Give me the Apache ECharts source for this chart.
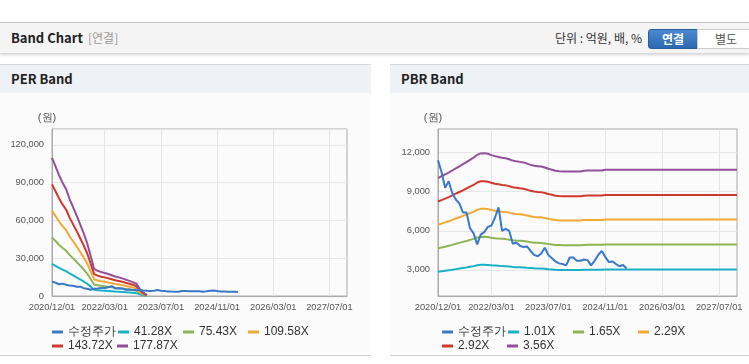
<!DOCTYPE html>
<html><head><meta charset="utf-8">
<script src="https://cdn.jsdelivr.net/npm/echarts@6/dist/echarts.min.js"></script>
<style>
html,body{margin:0;padding:0;background:#fff;width:749px;height:364px;overflow:hidden;font-family:"Noto Sans CJK KR","Noto Sans",sans-serif;}
#hdr{position:absolute;left:0;top:22px;width:749px;height:30px;background:#f4f4f4;border-top:1px solid #c4c4c4;box-shadow:0 2px 3px rgba(0,0,0,0.18);}
#hdr .t{position:absolute;left:11px;top:5px;font-size:13px;font-weight:bold;color:#222;}
#hdr .s{position:absolute;left:88px;top:6px;font-size:12px;color:#999;}
#hdr .u{position:absolute;right:107px;top:6px;font-size:12px;color:#333;}
.btn{position:absolute;top:6px;height:18px;line-height:18px;font-size:12px;text-align:center;}
.b1{left:648px;width:48px;background:linear-gradient(#4a8ad2,#2c68b0);color:#fff;font-weight:bold;border-radius:3px 0 0 3px;border:1px solid #2a5f9e;}
.b2{left:697px;width:56px;background:#fff;color:#555;border:1px solid #ccc;}
.panel{position:absolute;top:64px;height:290px;background:#fbfbfb;border-top:1px solid #d8d8d8;border-bottom:1px solid #d0d0d0}
.ptitle{height:28px;background:#eef1f6;font-size:13px;font-weight:bold;color:#222;line-height:28px;padding-left:11px;}
.chart{position:absolute;top:29px;left:0;height:261px}
</style></head>
<body>
<div id="hdr"><span class="t">Band Chart</span><span class="s">[연결]</span><span class="u">단위 : 억원, 배, %</span>
<div class="btn b1">연결</div><div class="btn b2">별도</div></div>
<div class="panel" style="left:0;width:371px"><div class="ptitle">PER Band</div><div id="c1" class="chart" style="width:371px"></div></div>
<div class="panel" style="left:390px;width:359px"><div class="ptitle">PBR Band</div><div id="c2" class="chart" style="width:359px"></div></div>
<script>
const dates = [
'2020/12/01',
'2021/01/01','2021/02/01','2021/03/01','2021/04/01','2021/05/01','2021/06/01','2021/07/01','2021/08/01','2021/09/01','2021/10/01','2021/11/01','2021/12/01',
'2022/01/01','2022/02/01','2022/03/01','2022/04/01','2022/05/01','2022/06/01','2022/07/01','2022/08/01','2022/09/01','2022/10/01','2022/11/01','2022/12/01',
'2023/01/01','2023/02/01','2023/03/01','2023/04/01','2023/05/01','2023/06/01','2023/07/01','2023/08/01','2023/09/01','2023/10/01','2023/11/01','2023/12/01',
'2024/01/01','2024/02/01','2024/03/01','2024/04/01','2024/05/01','2024/06/01','2024/07/01','2024/08/01','2024/09/01','2024/10/01','2024/11/01','2024/12/01',
'2025/01/01','2025/02/01','2025/03/01','2025/04/01','2025/05/01','2025/06/01','2025/07/01','2025/08/01','2025/09/01','2025/10/01','2025/11/01','2025/12/01',
'2026/01/01','2026/02/01','2026/03/01','2026/04/01','2026/05/01','2026/06/01','2026/07/01','2026/08/01','2026/09/01','2026/10/01','2026/11/01','2026/12/01',
'2027/01/01','2027/02/01','2027/03/01','2027/04/01','2027/05/01','2027/06/01','2027/07/01','2027/08/01','2027/09/01','2027/10/01','2027/11/01','2027/12/01'
];
const tickDates = ['2020/12/01','2022/03/01','2023/07/01','2024/11/01','2026/03/01','2027/07/01'];
const perYTicks = [0, 30000, 60000, 90000, 120000];
const pbrYTicks = [3000, 6000, 9000, 12000];

const price = [11400,10500,9300,9800,8900,8400,8100,7400,7400,6200,5800,4950,5700,5900,6300,6400,7000,7800,6000,6150,6000,5000,5100,4850,4750,4800,4450,4150,4050,4250,4700,4150,3900,3650,3500,3450,3350,3950,3950,3700,3700,3800,3750,3350,3700,4150,4450,4000,3600,3650,3450,3280,3380,3100];

const perNames = ['41.28X','75.43X','109.58X','143.72X','177.87X'];
const per41 = [25460,23910,22280,20890,19730,17870,16360,14850,13230,11610,9750,7430,4990,4640,4410,4250,4060,3830,3600,3440,3250,3020,2790,2550,2270,1300,650,160];
const per75 = [46520,43680,40710,38170,36050,32660,29900,27140,24170,21210,17810,13570,9120,8480,8060,7760,7420,7000,6570,6280,5940,5510,5090,4670,4160,2370,1190,300];
const per109 = [67590,63460,59150,55450,52370,47440,43440,39430,35120,30810,25880,19720,13250,12320,11710,11270,10780,10170,9550,9120,8630,8010,7390,6780,6040,3450,1730,430];
const per143 = [88640,83220,77570,72720,68680,62220,56960,51710,46060,40400,33940,25860,17370,16160,15350,14790,14140,13330,12520,11960,11310,10500,9700,8890,7920,4520,2260,570];
const per177 = [109700,103000,96000,90000,85000,77000,70500,64000,57000,50000,42000,32000,21500,20000,19000,18300,17500,16500,15500,14800,14000,13000,12000,11000,9800,5600,2800,700];

const pbrNames = ['1.01X','1.65X','2.29X','2.92X','3.56X'];
const pbr101 = [2850,2890,2930,2970,3010,3060,3100,3150,3190,3240,3290,3350,3390,3390,3380,3350,3330,3310,3290,3280,3260,3230,3210,3200,3190,3160,3140,3120,3110,3100,3080,3050,3030,3010,3000,
2990,2990,2990,2990,2990,2990,3010,3010,3010,3010,3010,3010,
3030,3030,3030,3030,3030,3030,3030,3030,3030,3030,3030,3030,3030,3030,3030,3030,3030,3030,3030,3030,3030,3030,3030,3030,3030,3030,3030,3030,3030,3030,3030,3030,3030,3030,3030,3030,3030,3030];
const pbr165 = [4650,4720,4780,4850,4920,5000,5070,5150,5220,5300,5380,5480,5530,5540,5520,5470,5430,5400,5380,5360,5320,5280,5250,5230,5210,5170,5120,5090,5080,5060,5030,4980,4950,4910,4900,
4890,4890,4890,4890,4890,4890,4910,4920,4920,4920,4920,4920,
4950,4950,4950,4950,4950,4950,4950,4950,4950,4950,4950,4950,4950,4950,4950,4950,4950,4950,4950,4950,4950,4950,4950,4950,4950,4950,4950,4950,4950,4950,4950,4950,4950,4950,4950,4950,4950,4950];
const pbr229 = [6460,6550,6640,6730,6830,6940,7040,7140,7240,7350,7460,7600,7680,7690,7660,7590,7540,7490,7460,7440,7390,7320,7280,7260,7230,7170,7110,7060,7040,7030,6980,6920,6870,6820,6790,
6790,6790,6790,6790,6790,6790,6820,6830,6830,6830,6830,6830,
6860,6860,6860,6860,6860,6860,6860,6860,6860,6860,6860,6860,6860,6860,6860,6860,6860,6860,6860,6860,6860,6860,6860,6860,6860,6860,6860,6860,6860,6860,6860,6860,6860,6860,6860,6860,6860,6860];
const pbr292 = [8240,8350,8460,8580,8710,8840,8970,9100,9240,9380,9510,9700,9790,9800,9760,9680,9610,9560,9510,9480,9420,9330,9290,9250,9220,9150,9060,9010,8980,8960,8900,8820,8760,8690,8660,
8650,8650,8650,8650,8650,8650,8690,8710,8710,8710,8710,8710,
8750,8750,8750,8750,8750,8750,8750,8750,8750,8750,8750,8750,8750,8750,8750,8750,8750,8750,8750,8750,8750,8750,8750,8750,8750,8750,8750,8750,8750,8750,8750,8750,8750,8750,8750,8750,8750,8750];
const pbr356 = [10040,10180,10320,10460,10620,10780,10940,11100,11260,11430,11600,11820,11930,11950,11900,11800,11720,11650,11600,11560,11480,11380,11320,11280,11240,11150,11050,10980,10950,10920,10850,10750,10680,10600,10560,
10550,10550,10550,10550,10550,10550,10600,10620,10620,10620,10620,10620,
10670,10670,10670,10670,10670,10670,10670,10670,10670,10670,10670,10670,10670,10670,10670,10670,10670,10670,10670,10670,10670,10670,10670,10670,10670,10670,10670,10670,10670,10670,10670,10670,10670,10670,10670,10670,10670,10670];

const colors = ['#3a78c8','#1ab1c7','#8db553','#f0a935','#d0382e','#934f9a'];
const priceName = '수정주가';
const fmt = v => String(v).replace(/\B(?=(\d{3})+(?!\d))/g, ',');
const tickIdx = tickDates.map(d => dates.indexOf(d));

function build(bandNames, bands, yMin, yMax, yInt, yTicks, gridRight, gridLeft) {
  const series = [];
  bands.forEach((arr, i) => series.push({
    name: bandNames[i], type: 'line', data: arr, symbol: 'none', showSymbol: false,
    lineStyle: { width: 2, color: colors[i + 1] }, itemStyle: { color: colors[i + 1] },
    emphasis: { disabled: true }, z: 2
  }));
  series.unshift({
    name: priceName, type: 'line', data: price, symbol: 'none', showSymbol: false,
    lineStyle: { width: 2, color: colors[0] }, itemStyle: { color: colors[0] },
    emphasis: { disabled: true }, z: 3
  });
  const step = yInt;
  const nPer = Math.round((yTicks[1] - yTicks[0]) / step);
  const splitColors = [];
  for (let k = 0; k < nPer; k++) splitColors.push('rgba(0,0,0,0)');
  const off = Math.round((yTicks[0] - yMin) / step) % nPer;
  splitColors[off] = '#e6e6e6';
  return {
    animation: false,
    backgroundColor: 'transparent',
    textStyle: { fontFamily: '"Liberation Sans", Arial, sans-serif' },
    grid: { left: gridLeft, right: gridRight, top: 35, bottom: 59, show: true, borderColor: '#aaaaaa', borderWidth: 1, backgroundColor: 'transparent' },
    legend: {
      left: 52, top: 232, width: 265, itemGap: 2, itemWidth: 11, itemHeight: 3, icon: 'rect', padding: 0,
      data: [priceName].concat(bandNames),
      formatter: '{a|{name}}',
      textStyle: { fontSize: 12, color: '#333', lineHeight: 12, fontFamily: '"Liberation Sans", Arial, sans-serif',
        rich: { a: { width: 47, fontSize: 12, color: '#333', lineHeight: 12, fontFamily: '"Liberation Sans", Arial, sans-serif' } } },
      selectedMode: false
    },
    xAxis: {
      type: 'category', data: dates, boundaryGap: false,
      axisLine: { lineStyle: { color: '#aaaaaa' } },
      axisTick: { show: false },
      axisLabel: { interval: (i) => tickIdx.includes(i), color: '#555', fontSize: 9.3, margin: 7, hideOverlap: false },
      splitLine: { show: true, interval: (i) => tickIdx.includes(i) && i > 0, lineStyle: { color: '#e6e6e6' } }
    },
    yAxis: {
      type: 'value', min: yMin, max: yMax, interval: step,
      name: '(원)', nameLocation: 'end', nameGap: 6,
      nameTextStyle: { color: '#555', fontSize: 11, align: 'center', padding: [0, 10, 0, 0] },
      axisLine: { show: true, lineStyle: { color: '#aaaaaa' } },
      axisTick: { show: false },
      axisLabel: { color: '#555', fontSize: 9.3, margin: 8, showMaxLabel: false,
        formatter: v => yTicks.includes(v) ? fmt(v) : '' },
      splitLine: { show: true, lineStyle: { color: splitColors } }
    },
    series
  };
}

const c1 = echarts.init(document.getElementById('c1'), null, { renderer: 'canvas' });
c1.setOption(build(perNames, [per41, per75, per109, per143, per177], 0, 132600, 30000, perYTicks, 24, 52));
const c2 = echarts.init(document.getElementById('c2'), null, { renderer: 'canvas' });
c2.setOption(build(pbrNames, [pbr101, pbr165, pbr229, pbr292, pbr356], 1000, 13800, 1000, pbrYTicks, 12, 48));
</script>
</body></html>
